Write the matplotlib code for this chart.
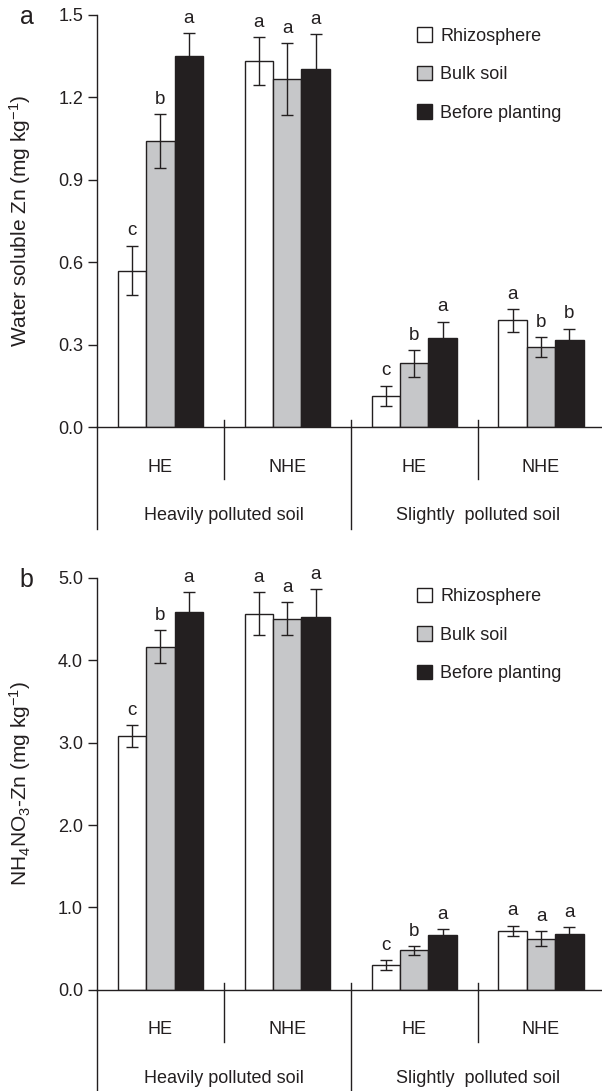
import numpy as np
import matplotlib
matplotlib.use('Agg')
import matplotlib.pyplot as plt
from matplotlib.patches import Patch

plt.rcParams['font.family'] = ['Liberation Sans', 'DejaVu Sans']
plt.rcParams['mathtext.fontset'] = 'custom'
plt.rcParams['mathtext.rm'] = 'Liberation Sans'
plt.rcParams['mathtext.it'] = 'Liberation Sans:italic'

# groups along the x axis
groups = ['HE', 'NHE', 'HE', 'NHE']
soils = ['Heavily polluted soil', 'Slightly  polluted soil']
series = ['Rhizosphere', 'Bulk soil', 'Before planting']

# panel a: water soluble Zn
ws_rhizo = [0.57, 1.33, 0.114, 0.389]
ws_bulk = [1.04, 1.266, 0.233, 0.292]
ws_before = [1.349, 1.302, 0.324, 0.318]
ws_rhizo_err = [0.09, 0.087, 0.037, 0.041]
ws_bulk_err = [0.098, 0.13, 0.048, 0.036]
ws_before_err = [0.083, 0.126, 0.06, 0.04]
ws_letters = [['c', 'a', 'c', 'a'], ['b', 'a', 'b', 'b'], ['a', 'a', 'a', 'b']]

# panel b: NH4NO3 extractable Zn
nh_rhizo = [3.08, 4.56, 0.30, 0.72]
nh_bulk = [4.16, 4.50, 0.48, 0.62]
nh_before = [4.585, 4.52, 0.663, 0.68]
nh_rhizo_err = [0.13, 0.26, 0.06, 0.06]
nh_bulk_err = [0.2, 0.2, 0.05, 0.09]
nh_before_err = [0.235, 0.34, 0.075, 0.08]
nh_letters = [['c', 'a', 'c', 'a'], ['b', 'a', 'b', 'a'], ['a', 'a', 'a', 'a']]

ink = '#231f20'
fills = ['white', '#c6c7c9', ink]
width = 0.224
fs = 13


def draw_panel(ax, vals, errs, letters, yticks, ylabel, tag, leg_y):
    x = np.arange(len(groups))
    for k in range(3):
        xs = x + (k - 1) * width
        ax.bar(xs, vals[k], width, color=fills[k], edgecolor=ink, linewidth=1.0, zorder=2)
        ax.errorbar(xs, vals[k], yerr=errs[k], fmt='none', ecolor=ink,
                    elinewidth=1.0, capsize=4, capthick=1.0, zorder=3)
        for xi, v, e, t in zip(xs, vals[k], errs[k], letters[k]):
            ax.annotate(t, (xi, v + e), xytext=(0, 7.5), textcoords='offset points',
                        ha='center', va='baseline', fontsize=13.5, color=ink)

    ax.set_xlim(-0.5, 3.5)
    ax.set_ylim(yticks[0], yticks[-1])
    ax.set_yticks(yticks)
    ax.set_yticklabels(['%.1f' % t for t in yticks])
    ax.set_xticks([])
    for s in ['top', 'right']:
        ax.spines[s].set_visible(False)
    for s in ['left', 'bottom']:
        ax.spines[s].set_color(ink)
        ax.spines[s].set_linewidth(1.0)
    ax.tick_params(axis='y', direction='out', length=6.5, width=1.0, pad=3.5,
                   labelsize=fs, colors=ink)

    tr = ax.get_xaxis_transform()
    ax.plot([-0.5, -0.5], [0, -0.245], color=ink, lw=1.0, transform=tr, clip_on=False)
    for sx, y1 in [(0.5, -0.126), (1.5, -0.245), (2.5, -0.126)]:
        ax.plot([sx, sx], [0.017, y1], color=ink, lw=1.0, transform=tr, clip_on=False)
    for xi, g in zip(x, groups):
        ax.text(xi, -0.096, g, transform=tr, ha='center', va='center', fontsize=fs, color=ink)
    for xi, s in zip([0.5, 2.5], soils):
        ax.text(xi, -0.214, s, transform=tr, ha='center', va='center', fontsize=fs, color=ink)

    ax.set_ylabel(ylabel, fontsize=15, color=ink)
    ax.yaxis.set_label_coords(-0.126, 0.5)
    ax.text(-0.139, 0.995, tag, transform=ax.transAxes, ha='center', va='center',
            fontsize=18, color=ink)

    handles = [Patch(facecolor=fills[k], edgecolor=ink, linewidth=1.0) for k in range(3)]
    leg = ax.legend(handles, series, loc='upper left', bbox_to_anchor=(0.63, leg_y),
                    frameon=False, fontsize=fs, handlelength=0.85, handleheight=0.85,
                    handletextpad=0.45, labelspacing=1.16, borderpad=0, borderaxespad=0)
    for t in leg.get_texts():
        t.set_color(ink)


fig = plt.figure(figsize=(6.02, 10.91), dpi=100)
ax1 = fig.add_axes([0.1611, 0.6082, 0.843, 0.3785])
ax2 = fig.add_axes([0.1611, 0.0926, 0.843, 0.3780])

draw_panel(ax1, [ws_rhizo, ws_bulk, ws_before], [ws_rhizo_err, ws_bulk_err, ws_before_err],
           ws_letters, [0.0, 0.3, 0.6, 0.9, 1.2, 1.5],
           'Water soluble Zn (mg kg$^{-1}$)', 'a', 0.969)
draw_panel(ax2, [nh_rhizo, nh_bulk, nh_before], [nh_rhizo_err, nh_bulk_err, nh_before_err],
           nh_letters, [0.0, 1.0, 2.0, 3.0, 4.0, 5.0],
           'NH$_4$NO$_3$-Zn (mg kg$^{-1}$)', 'b', 0.975)

fig.savefig('out.png', dpi=100)
